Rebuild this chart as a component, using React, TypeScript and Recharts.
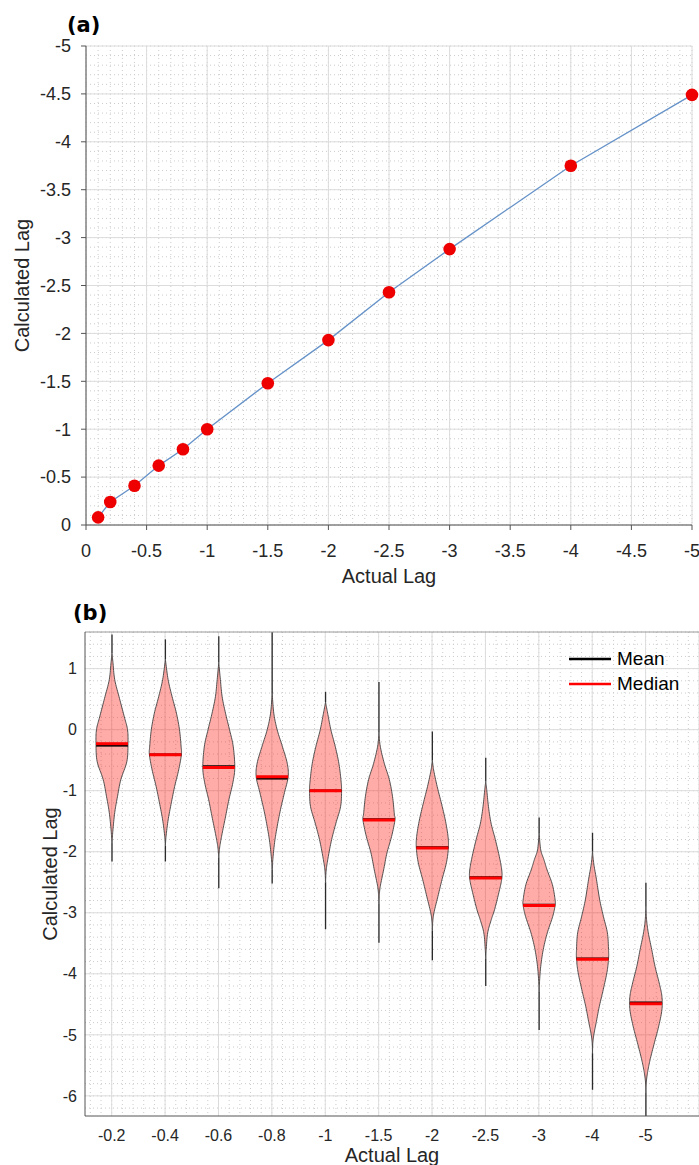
import React from "react";
import {
  Bar,
  CartesianGrid,
  ComposedChart,
  Label,
  Legend,
  Line,
  ReferenceLine,
  XAxis,
  YAxis,
} from "recharts";

// (a) actual vs calculated lag
const actualLag = [-0.1, -0.2, -0.4, -0.6, -0.8, -1, -1.5, -2, -2.5, -3, -4, -5];
const calculatedLag = [-0.08, -0.24, -0.41, -0.62, -0.79, -1.0, -1.48, -1.93, -2.43, -2.88, -3.75, -4.49];
const ticksA = [0, -0.5, -1, -1.5, -2, -2.5, -3, -3.5, -4, -4.5, -5];

// (b) violin summary per actual lag
const violinLabels = ["-0.2", "-0.4", "-0.6", "-0.8", "-1", "-1.5", "-2", "-2.5", "-3", "-4", "-5"];
const violinMax = [1.56, 1.48, 1.53, 1.6, 0.62, 0.78, -0.03, -0.46, -1.44, -1.69, -2.51];
const violinMin = [-2.16, -2.16, -2.6, -2.52, -3.27, -3.49, -3.78, -4.2, -4.92, -5.9, -6.33];
const violinMedian = [-0.23, -0.41, -0.62, -0.77, -1.0, -1.48, -1.94, -2.43, -2.88, -3.76, -4.49];
const violinMean = [-0.26, -0.41, -0.6, -0.8, -1.0, -1.47, -1.93, -2.42, -2.87, -3.75, -4.47];
// [value, relative half width] knots, top to bottom
const violinProfiles = [
  [[1.25, 0], [1.1, 0.06], [0.82, 0.17], [0.54, 0.44], [0.21, 0.77], [0, 0.97], [-0.23, 1], [-0.52, 0.93], [-0.82, 0.55], [-1.1, 0.34], [-1.36, 0.17], [-1.64, 0.06], [-1.85, 0]],
  [[1.15, 0], [0.82, 0.17], [0.54, 0.42], [0.27, 0.69], [0, 0.88], [-0.27, 0.98], [-0.41, 1], [-0.66, 0.83], [-0.93, 0.58], [-1.2, 0.37], [-1.48, 0.17], [-1.75, 0.04], [-1.9, 0]],
  [[1.1, 0], [0.82, 0.1], [0.54, 0.21], [0.27, 0.42], [0, 0.67], [-0.27, 0.9], [-0.62, 1], [-0.87, 0.88], [-1.15, 0.63], [-1.43, 0.42], [-1.7, 0.21], [-1.92, 0.06], [-2.1, 0]],
  [[0.6, 0], [0.27, 0.1], [0, 0.31], [-0.27, 0.63], [-0.55, 0.94], [-0.77, 1], [-1.03, 0.77], [-1.31, 0.52], [-1.59, 0.31], [-1.85, 0.15], [-2.13, 0.04], [-2.3, 0]],
  [[0.45, 0], [0.27, 0.13], [0, 0.33], [-0.27, 0.6], [-0.55, 0.83], [-0.82, 0.96], [-1.0, 1], [-1.26, 0.94], [-1.53, 0.65], [-1.8, 0.38], [-2.08, 0.17], [-2.3, 0.04], [-2.5, 0]],
  [[-0.05, 0], [-0.27, 0.08], [-0.55, 0.33], [-0.82, 0.65], [-1.1, 0.85], [-1.38, 0.96], [-1.48, 1], [-1.75, 0.79], [-2.02, 0.5], [-2.3, 0.29], [-2.57, 0.08], [-2.73, 0.02], [-2.85, 0]],
  [[-0.5, 0], [-0.66, 0.08], [-0.93, 0.3], [-1.2, 0.56], [-1.48, 0.81], [-1.75, 0.98], [-1.94, 1], [-2.18, 0.88], [-2.46, 0.6], [-2.73, 0.35], [-3.0, 0.1], [-3.16, 0.02], [-3.3, 0]],
  [[-0.85, 0], [-0.98, 0.06], [-1.26, 0.17], [-1.53, 0.33], [-1.8, 0.6], [-2.08, 0.85], [-2.3, 1], [-2.45, 1], [-2.67, 0.82], [-2.95, 0.55], [-3.11, 0.35], [-3.33, 0.12], [-3.6, 0.03], [-3.75, 0]],
  [[-1.7, 0], [-1.97, 0.1], [-2.13, 0.3], [-2.3, 0.5], [-2.54, 0.83], [-2.79, 1], [-2.88, 1], [-3.06, 0.85], [-3.33, 0.51], [-3.6, 0.26], [-3.88, 0.1], [-4.15, 0.02], [-4.3, 0]],
  [[-2.0, 0], [-2.2, 0.08], [-2.46, 0.25], [-2.79, 0.45], [-3.06, 0.68], [-3.33, 0.93], [-3.6, 1], [-3.76, 1], [-3.98, 0.9], [-4.26, 0.67], [-4.54, 0.42], [-4.8, 0.23], [-4.97, 0.1], [-5.13, 0.02], [-5.3, 0]],
  [[-2.9, 0], [-3.11, 0.04], [-3.33, 0.15], [-3.6, 0.36], [-3.88, 0.57], [-4.15, 0.83], [-4.37, 1], [-4.59, 1], [-4.87, 0.79], [-5.13, 0.53], [-5.41, 0.26], [-5.62, 0.1], [-5.79, 0.02], [-5.95, 0]],
];
const ticksBY = [1, 0, -1, -2, -3, -4, -5, -6];

const FONT = "'Liberation Sans', Arial, Helvetica, sans-serif";
const TEXT = "#262626";

const dataA = actualLag.map((a, i) => ({ actual: a, calc: calculatedLag[i] }));
const dataB = violinLabels.map((label, i) => ({
  pos: i + 1,
  label,
  range: [violinMin[i], violinMax[i]],
  median: violinMedian[i],
  mean: violinMean[i],
  profile: violinProfiles[i],
}));

const minorA = Array.from({ length: 51 }, (_, i) => -i / 10);
const minorBY = Array.from({ length: 40 }, (_, i) => 1.6 - i * 0.2);
const minorBX = Array.from({ length: 58 }, (_, i) => 0.6 + i * 0.2);
const majorBX = Array.from({ length: 12 }, (_, i) => i + 1);
const ticksBX = violinLabels.map((_, i) => i + 1);

// catmull-rom through the knots so the outline is smooth
function smoothProfile(knots: number[][]) {
  const out: number[][] = [];
  const n = knots.length;
  const at = (k: number) => knots[Math.max(0, Math.min(n - 1, k))];
  for (let i = 0; i < n - 1; i++) {
    const p0 = at(i - 1), p1 = at(i), p2 = at(i + 1), p3 = at(i + 2);
    for (let s = 0; s < 10; s++) {
      const t = s / 10, t2 = t * t, t3 = t2 * t;
      const f = (a: number, b: number, c: number, d: number) =>
        0.5 * (2 * b + (-a + c) * t + (2 * a - 5 * b + 4 * c - d) * t2 + (-a + 3 * b - 3 * c + d) * t3);
      out.push([f(p0[0], p1[0], p2[0], p3[0]), Math.max(0, f(p0[1], p1[1], p2[1], p3[1]))]);
    }
  }
  out.push(knots[n - 1]);
  return out;
}

function widthAt(knots: number[][], v: number) {
  for (let i = 0; i < knots.length - 1; i++) {
    const [v1, w1] = knots[i];
    const [v2, w2] = knots[i + 1];
    if (v <= v1 && v >= v2) return w1 + ((v1 - v) / (v1 - v2)) * (w2 - w1);
  }
  return 0;
}

function ViolinShape(props: any) {
  const { x, y, width, height, payload } = props;
  if (!payload) return null;
  const top = Math.min(y, y + height);
  const h = Math.abs(height);
  const [lo, hi] = payload.range;
  const toY = (v: number) => top + ((hi - v) / (hi - lo)) * h;
  const cx = x + width / 2;
  const half = width / 2;
  const prof: number[][] = payload.profile;
  const pts = smoothProfile(prof);
  const left = pts.map(([v, w]) => `${cx - w * half},${toY(v)}`);
  const right = pts.slice().reverse().map(([v, w]) => `${cx + w * half},${toY(v)}`);
  const d = `M${left.join("L")}L${right.join("L")}Z`;
  const wMean = widthAt(prof, payload.mean) * half;
  const wMed = widthAt(prof, payload.median) * half;
  const bodyTop = prof[0][0];
  const bodyBottom = prof[prof.length - 1][0];
  return (
    <g>
      <line x1={cx} x2={cx} y1={toY(hi)} y2={toY(bodyTop)} stroke="#2b2b2b" strokeWidth={1.3} />
      <line x1={cx} x2={cx} y1={toY(bodyBottom)} y2={toY(lo)} stroke="#2b2b2b" strokeWidth={1.3} />
      <path d={d} fill="#ff1a10" fillOpacity={0.37} stroke="#3f3f3f" strokeWidth={0.9} />
      <line x1={cx - wMean} x2={cx + wMean} y1={toY(payload.mean)} y2={toY(payload.mean)} stroke="#000" strokeWidth={2.2} />
      <line x1={cx - wMed} x2={cx + wMed} y1={toY(payload.median)} y2={toY(payload.median)} stroke="#f00" strokeWidth={3} />
    </g>
  );
}

function StatLegend() {
  const row = (color: string, text: string) => (
    <div style={{ display: "flex", alignItems: "center", height: 25 }}>
      <svg width={46} height={6} style={{ marginRight: 2 }}>
        <line x1={0} x2={42} y1={3} y2={3} stroke={color} strokeWidth={2.5} />
      </svg>
      <span style={{ fontFamily: FONT, fontSize: 19, color: "#000" }}>{text}</span>
    </div>
  );
  return (
    <div>
      {row("#000", "Mean")}
      {row("#f00", "Median")}
    </div>
  );
}

export default function App() {
  const tickA = { fill: TEXT, fontSize: 18, fontFamily: FONT };
  const tickB = { fill: TEXT, fontSize: 16, fontFamily: FONT };
  const titleStyle = { fill: TEXT, fontSize: 20, fontFamily: FONT, textAnchor: "middle" as const };
  return (
    <div style={{ position: "absolute", left: 0, top: 0, width: 699, height: 1165, background: "#fff", overflow: "hidden" }}>
      <svg width={699} height={1165} style={{ position: "absolute", left: 0, top: 0 }}>
        <text x={67} y={32} fontFamily="'DejaVu Sans', sans-serif" fontWeight="bold" fontSize={21} fill="#000">(a)</text>
        <text x={73} y={620} fontFamily="'DejaVu Sans', sans-serif" fontWeight="bold" fontSize={21} fill="#000">(b)</text>
      </svg>

      <div style={{ position: "absolute", left: 0, top: 0 }}>
        <ComposedChart width={699} height={600} data={dataA} margin={{ top: 46, right: 7, bottom: 0, left: 0 }}>
          <CartesianGrid stroke="#cccccc" strokeDasharray="1 3" horizontalValues={minorA} verticalValues={minorA} />
          <CartesianGrid stroke="#dcdcdc" horizontalValues={ticksA} verticalValues={ticksA} />
          <XAxis
            type="number"
            dataKey="actual"
            domain={[-5, 0]}
            reversed
            ticks={ticksA}
            interval={0}
            height={75}
            tickSize={5}
            tickMargin={14}
            stroke="#555"
            tick={tickA}
          >
            <Label value="Actual Lag" position="insideBottom" offset={17} style={titleStyle} />
          </XAxis>
          <YAxis
            type="number"
            domain={[-5, 0]}
            reversed
            ticks={ticksA}
            interval={0}
            width={86}
            tickSize={5}
            tickMargin={10}
            stroke="#555"
            tick={tickA}
          >
            <Label value="Calculated Lag" position="insideLeft" angle={-90} offset={22} style={titleStyle} />
          </YAxis>
          <Line
            type="linear"
            dataKey="calc"
            stroke="#6592c8"
            strokeWidth={1.3}
            dot={{ r: 6.3, fill: "#ee0000", stroke: "none" }}
            isAnimationActive={false}
          />
        </ComposedChart>
      </div>

      <div style={{ position: "absolute", left: 0, top: 590 }}>
        <ComposedChart width={699} height={575} data={dataB} margin={{ top: 42, right: 0, bottom: 0, left: 0 }}>
          <CartesianGrid stroke="#cccccc" strokeDasharray="1 3" horizontalValues={minorBY} verticalValues={minorBX} />
          <CartesianGrid stroke="#dcdcdc" horizontalValues={ticksBY} verticalValues={majorBX} />
          <XAxis
            type="number"
            dataKey="pos"
            domain={[0.5, 12]}
            allowDataOverflow
            ticks={ticksBX}
            interval={0}
            tickFormatter={(v: number) => violinLabels[v - 1]}
            height={49}
            tickSize={0}
            tickMargin={14}
            stroke="#555"
            tick={tickB}
          >
            <Label value="Actual Lag" position="insideBottom" offset={3} style={titleStyle} />
          </XAxis>
          <YAxis
            type="number"
            domain={[-6.33, 1.6]}
            allowDataOverflow
            ticks={ticksBY}
            interval={0}
            width={85}
            tickSize={0}
            tickMargin={8}
            stroke="#555"
            tick={tickB}
          >
            <Label value="Calculated Lag" position="insideLeft" angle={-90} offset={50} style={titleStyle} />
          </YAxis>
          <ReferenceLine y={1.6} stroke="#9a9a9a" ifOverflow="extendDomain" />
          <Bar dataKey="range" barSize={32} shape={ViolinShape} isAnimationActive={false} />
          <Legend
            layout="vertical"
            align="center"
            verticalAlign="middle"
            content={() => <StatLegend />}
            wrapperStyle={{ left: 569, top: 56, width: 130 }}
          />
        </ComposedChart>
      </div>
    </div>
  );
}
